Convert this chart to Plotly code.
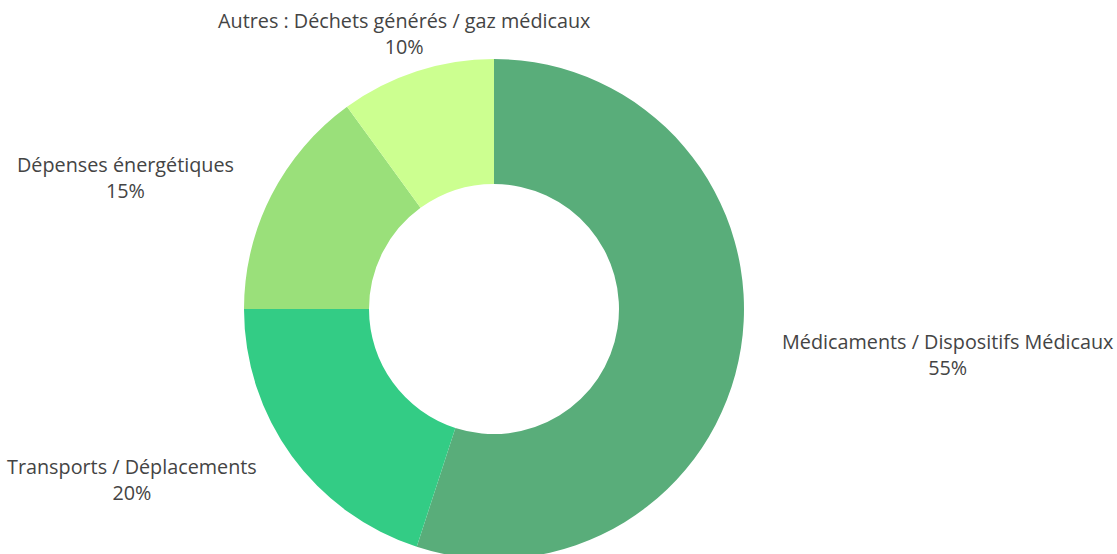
import math
import plotly.graph_objects as go

labels = ["Médicaments / Dispositifs Médicaux", "Transports / Déplacements",
          "Dépenses énergétiques", "Autres : Déchets générés / gaz médicaux"]
values = [55, 20, 15, 10]
colors = ["#59ad7a", "#33cc85", "#9ae07a", "#ccff90"]

W, H = 1117, 560
cx, cy, R = 494, 309, 250
label_r = 1.16 * R

fig = go.Figure(go.Pie(
    labels=labels,
    values=values,
    hole=0.5,
    sort=False,
    direction="clockwise",
    rotation=0,
    marker=dict(colors=colors, line=dict(width=0)),
    textinfo="none",
    showlegend=False,
    automargin=False,
    hoverinfo="label+percent",
    domain=dict(x=[(cx - R) / W, (cx + R) / W], y=[1 - (cy + R) / H, 1 - (cy - R) / H]),
))

# outside labels placed along each slice's mid-angle
total = sum(values)
cum = 0
for lab, v in zip(labels, values):
    theta = 2 * math.pi * (cum + v / 2) / total
    cum += v
    s, c = math.sin(theta), math.cos(theta)
    px = cx + label_r * s
    py = cy - label_r * c
    if s > 0.5:
        xa = "left"
    elif s < -0.5:
        xa = "right"
    else:
        xa = "center"
    pct = round(100 * v / total)
    fig.add_annotation(
        x=px / W, y=1 - py / H, xref="paper", yref="paper",
        text=f"{lab}<br>{pct}%", showarrow=False,
        xanchor=xa, yanchor="middle", align="center",
        font=dict(family="Open Sans", size=19.8, color="#444"),
    )

fig.update_layout(
    width=W, height=H,
    margin=dict(l=0, r=0, t=0, b=0, autoexpand=False),
    paper_bgcolor="white",
    font=dict(family="Open Sans", size=20, color="#444"),
)
fig.write_html(
    "out.html",
    config={"displayModeBar": False},
    post_script="document.body.style.margin='0';document.body.style.overflow='hidden';",
)
